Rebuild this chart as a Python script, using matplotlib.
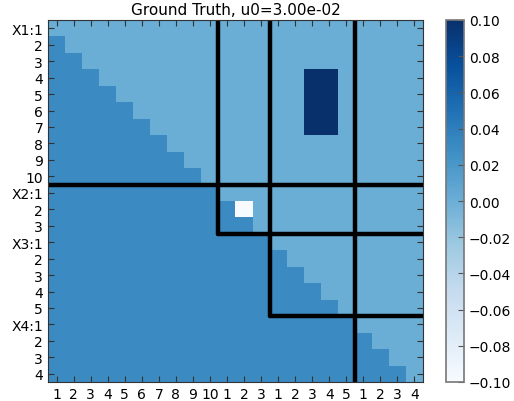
import numpy as np
import matplotlib
matplotlib.use("Agg")
import matplotlib.pyplot as plt

# block sizes and labels
group_names = ["X1", "X2", "X3", "X4"]
group_sizes = [10, 3, 5, 4]
u0 = 3.00e-02

lower_value = 0.03      # strictly lower triangle
upper_value = 0.0       # diagonal and upper triangle
hot_rows = [3, 4, 5, 6]     # X1:4..7
hot_cols = [15, 16]         # X3:3..4
hot_value = 0.1
cold_cell = (11, 11)        # X2:2, X2:2
cold_value = -0.1

# thick block lines: (x0, x1, y0, y1) in cell-boundary units
block_lines = [
    (10, 10, 0, 13),
    (0, 22, 10, 10),
    (10, 22, 13, 13),
    (13, 13, 0, 18),
    (13, 22, 18, 18),
    (18, 18, 0, 22),
]

n = sum(group_sizes)
mat = np.full((n, n), upper_value)
mat[np.tril_indices(n, -1)] = lower_value
for r in hot_rows:
    for c in hot_cols:
        mat[r, c] = hot_value
mat[cold_cell] = cold_value

ylabels, xlabels = [], []
for name, size in zip(group_names, group_sizes):
    for i in range(1, size + 1):
        ylabels.append(f"{name}:{i}" if i == 1 else str(i))
        xlabels.append(str(i))

plt.rcParams["xtick.direction"] = "in"
plt.rcParams["ytick.direction"] = "in"
plt.rcParams["xtick.top"] = True
plt.rcParams["ytick.right"] = True

fig = plt.figure(figsize=(5.14, 4.02), dpi=100)
ax = fig.add_axes([48 / 514, 1 - 383 / 402, 375 / 514, 362 / 402])
cax = fig.add_axes([446 / 514, 1 - 383 / 402, 18 / 514, 362 / 402])

im = ax.imshow(mat, cmap="Blues", vmin=-0.1, vmax=0.1, aspect="auto",
               interpolation="nearest")
for x0, x1, y0, y1 in block_lines:
    ax.plot([x0 - 0.5, x1 - 0.5], [y0 - 0.5, y1 - 0.5], color="black", lw=3.2,
            solid_capstyle="round")
ax.set_xlim(-0.5, n - 0.5)
ax.set_ylim(n - 0.5, -0.5)
ax.set_xticks(range(n))
ax.set_xticklabels(xlabels, fontsize=10)
ax.set_yticks(range(n))
ax.set_yticklabels(ylabels, fontsize=10)
ax.tick_params(length=4, color="#333333")
for sp in ax.spines.values():
    sp.set_color("#333333")
ax.set_title(f"Ground Truth, u0={u0:.2e}", fontsize=11, pad=4)

cb = fig.colorbar(im, cax=cax, ticks=np.linspace(-0.1, 0.1, 11))
cb.ax.yaxis.set_ticklabels([f"{t:.2f}".replace("-", "\u2212") for t in np.linspace(-0.1, 0.1, 11)])
cb.ax.tick_params(direction="in", length=4, labelsize=10, left=False, right=True, color="#555555")
cb.outline.set_edgecolor("#777777")
cb.outline.set_linewidth(1.2)

fig.savefig("out.png", dpi=100)
